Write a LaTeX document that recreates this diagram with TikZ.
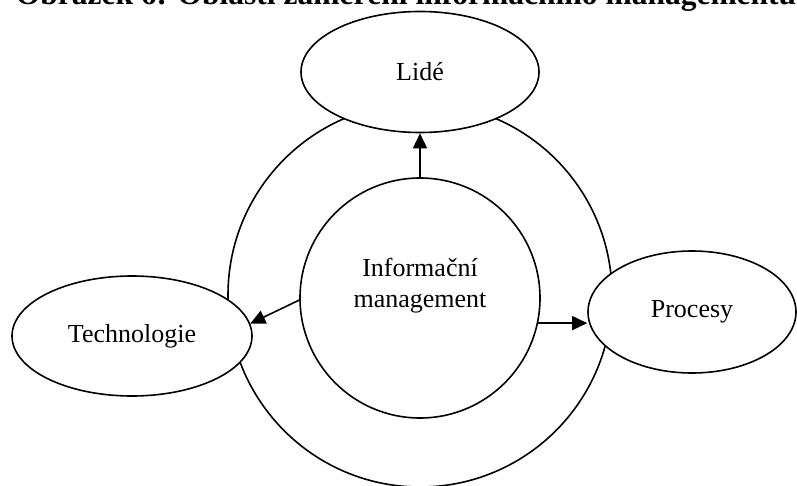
\documentclass[tikz,border=0pt]{standalone}
\usepackage{fontspec}
\setmainfont{Liberation Serif}
\usetikzlibrary{arrows.meta,shapes.geometric}
\begin{document}
\begin{tikzpicture}[x=1pt,y=-1pt,
  line width=1.6pt,
  oval/.style={draw,ellipse,fill=white,inner sep=0pt,font=\fontsize{26}{31}\selectfont},
  ring/.style={draw,circle,inner sep=0pt,minimum size=#1},
  lbl/.style={font=\fontsize{26}{31}\selectfont,align=center,inner sep=0pt},
  heading/.style={font=\bfseries\fontsize{31.5}{36}\selectfont,inner sep=0pt,anchor=base west},
  arr/.style={-{Triangle[length=15pt,width=14pt]}},
]
\useasboundingbox (0,0) rectangle (797,486);
\clip (0,0) rectangle (797,486);
\node[heading] (title) at (15,5) {Obrázek 6: Oblasti zaměření informačního managementu};
\node[ring=384pt] (outer) at (420,295) {};
\node[ring=240pt] (inner) at (420,298) {};
\node[lbl] (im) at (420,286) {Informační\\management};
\node[oval,minimum width=238pt,minimum height=121pt] (lide) at (420,72) {Lidé};
\node[oval,minimum width=240pt,minimum height=120pt] (tech) at (132,336) {Technologie};
\node[oval,minimum width=208pt,minimum height=122pt] (proc) at (692,312) {Procesy};
\draw[arr] (inner.north) -- (lide.south);
\draw[arr] (inner.181) -- (tech.6);
\draw[arr] (inner.-12) -- (inner.-12 -| proc.west);
\end{tikzpicture}
\end{document}
